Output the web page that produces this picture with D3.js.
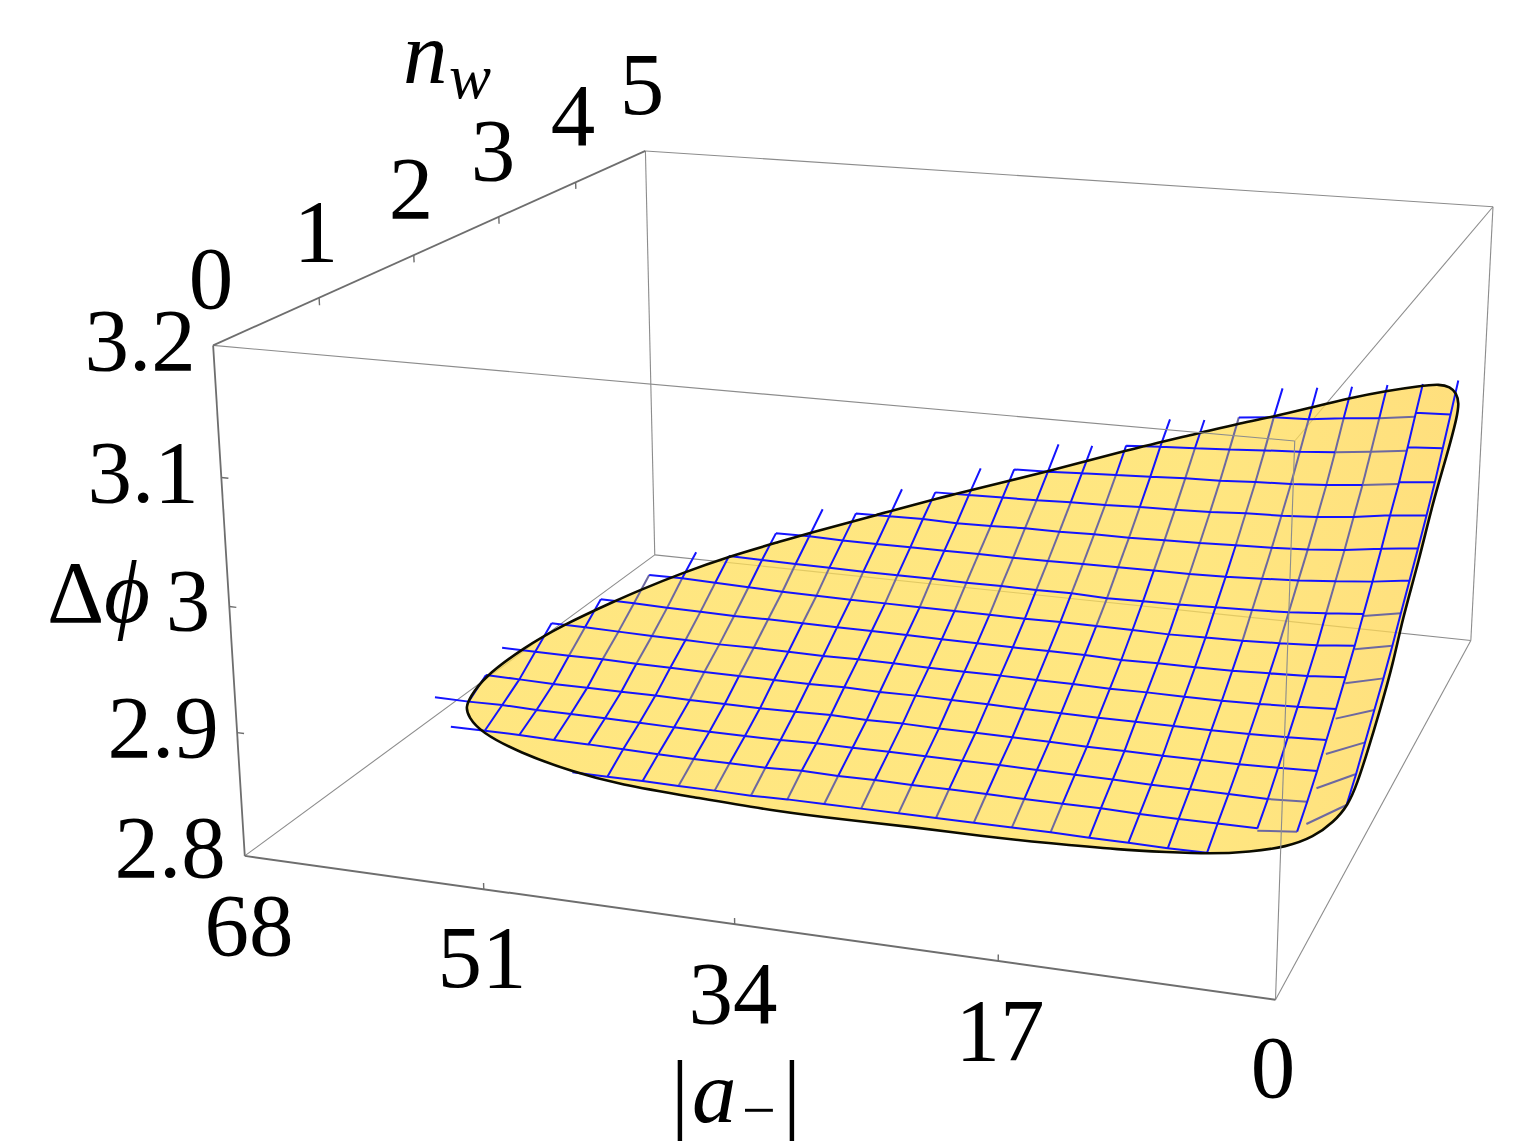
<!DOCTYPE html>
<html><head><meta charset="utf-8">
<script src="https://cdn.jsdelivr.net/npm/d3@7"></script>
<style>html,body{margin:0;background:#fff}svg{display:block}text{font-family:"Liberation Serif",serif;fill:#000}</style>
</head><body><svg id="c" width="1540" height="1144"></svg>
<script>
// ---------- data ----------
const aTicks=[68,51,34,17,0];
const nTicks=[0,1,2,3,4,5];
const phiTicks=[3.2,3.1,3,2.9,2.8];
const aGrid=[0.31,2.87,5.45,8.05,10.62,13.21,15.81,18.39,20.99,23.57,26.15,28.73,31.31,33.89,36.47,39.05,41.63,44.22,46.81,49.37,51.93,54.50,57.08,59.68,62.25,64.84];
const nGrid=[4.25,4.05,3.85,3.65,3.44,3.23,3.02,2.81,2.61,2.40,2.19,1.98,1.78,1.57,1.36,1.16];
const _=null;
// phi x 10000: one row per nGrid value, one column per aGrid value
const phiRow0=[30727,30672,30637,30596,30562,30530];
const phiRow1=[30511,30465,30424,30397,30361,30352,30325,30275,30254];
const phiRow2=[30299,30251,30215,30181,30159,30143,30124,30106,30093,30074,30044,30031];
const phiRow3=[30091,30049,30011,29982,29963,29951,29934,29926,29912,29899,29885,29872,29864,29845];
const phiRow4=[29901,29872,29828,29798,29780,29771,29753,29744,29738,29726,29720,29709,29704,29698,29693,29692];
const phiRow5=[29717,29684,29642,29616,29600,29590,29579,29572,29565,29564,29557,29557,29547,29541,29550,29544,29541,29548];
const phiRow6=[29544,29504,29475,29451,29434,29420,29411,29409,29406,29404,29399,29397,29399,29397,29396,29395,29397,29403,29399];
const phiRow7=[29373,29334,29307,29283,29270,29260,29251,29247,29240,29252,29248,29251,29249,29252,29250,29251,29255,29256,29261,29265,29268];
const phiRow8=[29204,29170,29140,29123,29112,29106,29098,29102,29103,29105,29100,29102,29101,29101,29103,29103,29106,29109,29116,29125,29133,29131];
const phiRow9=[29043,29017,28993,28981,28969,28963,28962,28956,28964,28965,28962,28963,28964,28968,28969,28968,28970,28972,28968,28974,28977,28983,28986];
const phiRow10=[28896,28869,28853,28839,28831,28829,28830,28826,28830,28829,28832,28831,28831,28834,28834,28829,28832,28833,28828,28833,28835,28840,28845,28847];
const phiRow11=[28749,28732,28717,28708,28702,28701,28701,28698,28699,28699,28703,28704,28706,28702,28707,28700,28700,28699,28699,28702,28703,28707,28705,28706,28707];
const phiRow12=[28607,28594,28583,28573,28571,28569,28571,28570,28574,28574,28576,28576,28580,28574,28581,28573,28566,28568,28566,28569,28568,28568,28565,28570,28574];
const phiRow13=[28481,28469,28452,28454,28454,28454,28459,28460,28461,28465,28463,28462,28464,28460,28460,28451,28449,28449,28449,28453,28455,28456,28455,28462,28456,28458];
const phiRow14=[_,28356,28343,28343,28340,28341,28348,28347,28346,28349,28349,28347,28350,28346,28352,28340,28339,28338,28340,28346,28351,28352,28358,28358,28356];
const phiRow15=[_,_,_,28232,28227,28232,28232,28236,28236,28235,28234,28233,28233,28232,28232,28224,28228,28228,28232,28231,28230];
const phiTable=[phiRow0,phiRow1,phiRow2,phiRow3,phiRow4,phiRow5,phiRow6,phiRow7,phiRow8,phiRow9,phiRow10,phiRow11,phiRow12,phiRow13,phiRow14,phiRow15];
// phi on the a=aGrid[1] crease, seen from the edge strip (rows 1..13)
const phiCrease=[30500,30281,30063,29872,29684,29504,29317,29140,28967,28789,28616,28452,28288];
const phiCreaseRow14=28324;
// how far each constant-n line runs (last aGrid index), and its first index
const rowFirst=[_,0,0,0,0,0,0,0,0,0,0,0,0,0,1,3];
const rowLast=[_,6,9,12,14,16,18,19,21,22,23,24,24,25,24,20];
// constant-a lines: [first row,last row]
const colSpan=[[0,13],[0,14],[0,14],[0,15],[0,15],[0,15],[1,15],[1,15],[1,15],[2,15],[2,15],[2,15],[3,15],[3,15],[4,15],[4,15],[5,15],[5,15],[6,15],[7,15],[7,14],[8,14],[9,14],[10,14],[12,13],[_,_]];
// stretches of constant-a lines that sink under the sheet: [column, first row, last row]
const sunkCol=[[2,1,7],[3,1,8],[4,1,8],[5,1,5],[6,1,7],[7,2,6],[8,4,8],[9,3,7],[10,4,7],[11,4,8],[12,5,8],[13,7,8],[14,7,8],[15,7,8],[16,7,9],[17,7,11],[18,8,12],[19,8,10],[20,8,11],[21,8,11],[22,10,11],
 [7,14,15],[8,14,15],[9,14,15],[10,14,15],[11,14,15],[12,14,15],[13,14,15],[14,14,15],[15,14,15],[16,14,15],[17,14,15]];
// stretches of constant-n lines that sink: [row, first column, last column]
const sunkRow=[[1,1,2],[2,1,3],[3,1,2],[13,1,2],[7,0,1],[8,0,1],[9,0,1],[10,0,1],[11,0,1],[12,0,1],[13,0,1]];
// rim of the sheet
const rimA=[62.5,62.1,62.5,60.6,58.8,55.8,54.0,51.9,49.5,46.3,44.2,40.3,35.1,28.8,23.5,18.7,15.7,13.3,10.6,8.2,5.5,3.1,1.6,0.9,0.4,0.2,0.2,0.2,0.2,0.2,0.2,0.2,0.2,0.2,0.2,0.2,1.1,1.8,3.5,5.9,7.9,10.7,13.6,18.6,23.1,27.7,32.3,37.0,43.2,48.5,51.9,57.1,60.0,62.3];
const rimN=[1.57,1.57,1.78,1.98,2.19,2.40,2.40,2.61,2.81,3.02,3.02,3.23,3.44,3.65,3.85,4.05,4.05,4.05,4.05,4.25,4.25,4.25,4.25,4.25,4.25,4.26,4.22,3.95,3.57,3.23,2.81,2.61,2.30,2.00,1.78,1.57,1.57,1.36,1.36,1.36,1.16,1.16,1.16,1.16,1.16,1.16,1.16,1.16,1.16,1.16,1.16,1.36,1.36,1.57];
const rimPhi=[28406,28498,28544,28726,28843,28996,29107,29181,29255,29337,29433,29533,29694,29868,30036,30155,30276,30355,30462,30494,30584,30652,30684,30665,30617,30527,30421,30200,29957,29617,29317,29060,28837,28652,28535,28482,28330,28329,28223,28145,28224,28196,28167,28145,28132,28136,28124,28119,28151,28177,28234,28205,28342,28321];

// ---------- camera: pixel positions of the box corners, solved for a projective matrix ----------
const boxCorners=[[68,0,2.8,244.7,856],[0,0,2.8,1275,1000],[0,5,2.8,1471,640],[68,5,2.8,655,555],[68,0,3.2,213.4,345],[0,0,3.2,1295,441],[0,5,3.2,1493,207],[68,5,3.2,645,151]];
const sa=d3.scaleLinear([0,68],[0,1]),sn=d3.scaleLinear([0,5],[0,1]),sp=d3.scaleLinear([2.8,3.2],[0,1]);
function solve(A,b){const n=b.length,M=A.map((r,i)=>[...r,b[i]]);for(let i=0;i<n;i++){let p=i;for(let j=i+1;j<n;j++)if(Math.abs(M[j][i])>Math.abs(M[p][i]))p=j;[M[i],M[p]]=[M[p],M[i]];for(let j=i+1;j<n;j++){const f=M[j][i]/M[i][i];for(let k=i;k<=n;k++)M[j][k]-=f*M[i][k];}}const x=Array(n);for(let i=n-1;i>=0;i--){let s=M[i][n];for(let k=i+1;k<n;k++)s-=M[i][k]*x[k];x[i]=s/M[i][i];}return x;}
const eqs=[],rhs=[];
boxCorners.forEach(c=>{const x=sa(c[0]),y=sn(c[1]),z=sp(c[2]),u=c[3],v=c[4];eqs.push([x,y,z,1,0,0,0,0,-u*x,-u*y,-u*z]);rhs.push(u);eqs.push([0,0,0,0,x,y,z,1,-v*x,-v*y,-v*z]);rhs.push(v);});
const Nm=d3.range(11).map(i=>d3.range(11).map(j=>d3.sum(eqs,r=>r[i]*r[j])));
const Bm=d3.range(11).map(i=>d3.sum(eqs,(r,k)=>r[i]*rhs[k]));
const q=solve(Nm,Bm);q.push(1);
function project(a,n,f){const x=sa(a),y=sn(n),z=sp(f),w=q[8]*x+q[9]*y+q[10]*z+q[11];return[(q[0]*x+q[1]*y+q[2]*z+q[3])/w,(q[4]*x+q[5]*y+q[6]*z+q[7])/w];}

// ---------- drawing ----------
const svg=d3.select('#c');
const line=d3.line();
const phiAt=(r,c)=>phiTable[r][c]/10000;
const node=(r,c)=>project(aGrid[c],nGrid[r],phiAt(r,c));
const edge=(A,B,w,col)=>svg.append('path').attr('d',line([project(...A),project(...B)])).attr('fill','none').attr('stroke',col).attr('stroke-width',w);

const thin='#8c8c8c';
// back edges, behind the translucent sheet
edge([68,5,2.8],[0,5,2.8],1.1,thin);
edge([68,5,2.8],[68,5,3.2],1.1,thin);
edge([68,5,2.8],[68,0,2.8],1.1,thin);
edge([0,5,2.8],[0,0,2.8],1.1,thin);
edge([0,5,2.8],[0,5,3.2],1.1,thin);
edge([68,5,3.2],[0,5,3.2],1.1,thin);
edge([0,5,3.2],[0,0,3.2],1.1,thin);

// sheet
const defs=svg.append('defs');
const g=defs.append('linearGradient').attr('id','sheet').attr('gradientUnits','userSpaceOnUse').attr('x1',1200).attr('x2',1440).attr('y1',0).attr('y2',0);
g.append('stop').attr('offset',0).attr('stop-color','#ffde56');
g.append('stop').attr('offset',1).attr('stop-color','#ffd552');
const rimPts=rimA.map((a,i)=>project(a,rimN[i],rimPhi[i]/10000));
const rimPath=d3.line().curve(d3.curveBasisClosed)(rimPts);
svg.append('path').attr('d',rimPath).attr('fill','url(#sheet)').attr('fill-opacity',.75);

// mesh
const blue='#1414ff',sunk='#6d68a0';
const isSunkCol=(c,r)=>sunkCol.some(s=>s[0]===c&&r>=s[1]&&r<s[2]);
const isSunkRow=(r,c)=>sunkRow.some(s=>s[0]===r&&c>=s[1]&&c<s[2]);
const mesh=svg.append('g').attr('fill','none').attr('stroke-width',2);
const segs=[];
rowLast.forEach((last,r)=>{if(last===_)return;for(let c=rowFirst[r];c<last;c++){
  let A=node(r,c),B=node(r,c+1);
  if(c===0)B=project(aGrid[1],nGrid[r],phiCrease[r-1]/10000);
  if(r===14&&c===1)B=project(aGrid[2],nGrid[14],phiCreaseRow14/10000);
  segs.push({d:[A,B],s:isSunkRow(r,c)||(r===14&&c===1)});
}});
colSpan.forEach((sp2,c)=>{if(sp2[0]===_)return;for(let r=sp2[0];r<sp2[1];r++){segs.push({d:[node(r,c),node(r+1,c)],s:isSunkCol(c,r)});}});
mesh.selectAll('path').data(segs.filter(s=>s.s)).join('path').attr('d',d=>line(d.d)).attr('stroke',sunk);
mesh.append('path').attr('d',segs.filter(s=>!s.s).map(s=>line(s.d)).join('')).attr('stroke',blue);

// rim
svg.append('path').attr('d',rimPath).attr('fill','none').attr('stroke','#0c0c00').attr('stroke-width',2.6).attr('stroke-linejoin','round');

// front edges and axes
edge([68,0,3.2],[0,0,3.2],1.1,thin);
edge([0,0,2.8],[0,0,3.2],1.1,thin);
const axisCol='#6e6e6e';
edge([68,0,2.8],[0,0,2.8],2,axisCol);
edge([68,0,2.8],[68,0,3.2],1.8,axisCol);
edge([68,0,3.2],[68,5,3.2],1.8,axisCol);
// ticks
aTicks.slice(1,-1).forEach(t=>edge([t,0,2.8],[t,0,2.805],1.4,axisCol));
nTicks.slice(1,-1).forEach(t=>edge([68,t,3.2],[68,t,3.194],1.4,axisCol));
phiTicks.slice(1,-1).forEach(t=>edge([68,0,t],[67.5,0,t],1.4,axisCol));

// labels
const fs=89;
const lab=(s,x,y,size=fs,style='normal',anchor='middle')=>svg.append('text').attr('x',x).attr('y',y).attr('font-size',size).attr('font-style',style).attr('text-anchor',anchor).text(s);
const phiLabelPos=[[140,370],[143,502],[188,630],[163,757],[170,877]];
phiTicks.forEach((t,i)=>lab(t===3?'3':t.toFixed(1),...phiLabelPos[i]));
const nLabelPos=[[211,308],[316,261],[411,218],[493,180],[573,145],[642,114]];
nTicks.forEach((t,i)=>lab(String(t),...nLabelPos[i]));
const aLabelPos=[[249,955],[482,987],[733,1023],[1000,1060],[1273,1097]];
aTicks.forEach((t,i)=>lab(String(t),...aLabelPos[i]));
lab('n',403,83,fs,'italic','start');
lab('w',449,98,63,'italic','start');
lab('Δ',47,622,fs,'normal','start');
lab('ϕ',104,622,fs,'italic','start');
lab('|',680,1122,fs,'normal','middle');
lab('a',692,1122,fs,'italic','start');
lab('−',759,1130,60,'normal','middle');
lab('|',792,1122,fs,'normal','middle');
</script></body></html>
